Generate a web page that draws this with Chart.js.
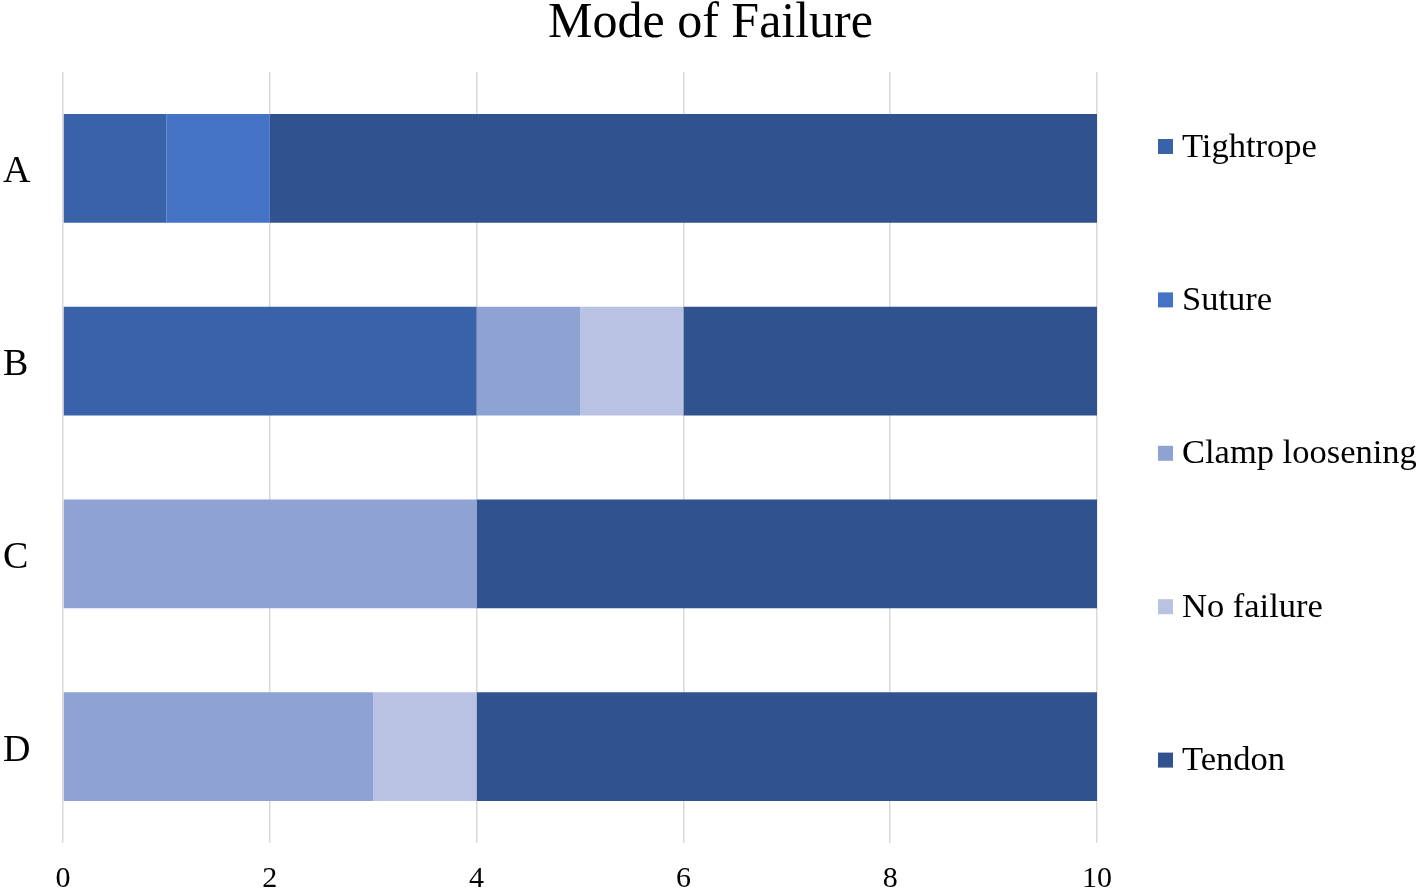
<!DOCTYPE html>
<html>
<head>
<meta charset="utf-8">
<script src="https://cdn.jsdelivr.net/npm/chart.js@4"></script>
<style>
html,body{margin:0;padding:0;background:#fff;}
#wrap{width:1418px;height:892px;position:relative;}
</style>
</head>
<body>
<div id="wrap"><canvas id="c" width="1418" height="892"></canvas></div>
<script>
const categories = ['A', 'B', 'C', 'D'];
const seriesNames = ['Tightrope', 'Suture', 'Clamp loosening', 'No failure', 'Tendon'];
const tightrope = [1, 4, 0, 0];
const suture = [1, 0, 0, 0];
const clampLoosening = [0, 1, 4, 3];
const noFailure = [0, 1, 0, 1];
const tendon = [8, 4, 6, 6];
const xTicks = [0, 2, 4, 6, 8, 10];
const colors = ['#3a62a8', '#4472c4', '#8fa2d4', '#b9c2e2', '#30528f'];

const FONT = "'Liberation Serif', 'Times New Roman', serif";
const seriesValues = [tightrope, suture, clampLoosening, noFailure, tendon];

const legendPlugin = {
  id: 'sideLegend',
  afterDraw(chart) {
    const ctx = chart.ctx;
    ctx.save();
    ctx.font = '34.5px ' + FONT;
    ctx.textBaseline = 'middle';
    ctx.textAlign = 'left';
    const startY = 146.5, step = 153.4;
    chart.data.datasets.forEach((ds, i) => {
      const y = startY + i * step;
      ctx.fillStyle = ds.backgroundColor;
      ctx.fillRect(1158, y - 7.5, 15, 15);
      ctx.fillStyle = '#000';
      ctx.fillText(ds.label, 1182, y + 1);
    });
    ctx.restore();
  }
};

new Chart(document.getElementById('c'), {
  type: 'bar',
  data: {
    labels: categories,
    datasets: seriesNames.map((name, i) => ({
      label: name,
      data: seriesValues[i],
      backgroundColor: colors[i],
      borderWidth: 0,
      categoryPercentage: 1.0,
      barPercentage: 0.565
    }))
  },
  options: {
    indexAxis: 'y',
    responsive: false,
    animation: false,
    layout: { padding: { left: 3, right: 0, top: 0, bottom: 0 } },
    plugins: {
      legend: { display: false },
      tooltip: { enabled: false },
      title: {
        display: true,
        text: 'Mode of Failure',
        color: '#000',
        font: { family: FONT, size: 50, weight: 'normal', lineHeight: 0.95 },
        padding: { top: 0, bottom: 24.5 }
      }
    },
    scales: {
      x: {
        stacked: true,
        min: 0,
        max: 10,
        afterBuildTicks(scale) { scale.ticks = xTicks.map(v => ({ value: v })); },
        grid: { color: '#d9d9d9', lineWidth: 1.5, drawTicks: false },
        border: { display: false },
        ticks: { color: '#000', font: { family: FONT, size: 30 }, padding: 18, maxRotation: 0 },
        afterFit(scale) { scale.height = 49; }
      },
      y: {
        stacked: true,
        grid: { display: false, drawTicks: false },
        border: { display: false },
        ticks: { color: '#000', font: { family: FONT, size: 38 }, padding: 0, crossAlign: 'far', labelOffset: 4 },
        afterFit(scale) { scale.width = 60; }
      },
      side: {
        type: 'category',
        position: 'right',
        labels: [''],
        grid: { display: false, drawTicks: false },
        border: { display: false },
        ticks: { display: false },
        afterFit(scale) { scale.width = 321; }
      }
    }
  },
  plugins: [legendPlugin]
});
</script>
</body>
</html>
